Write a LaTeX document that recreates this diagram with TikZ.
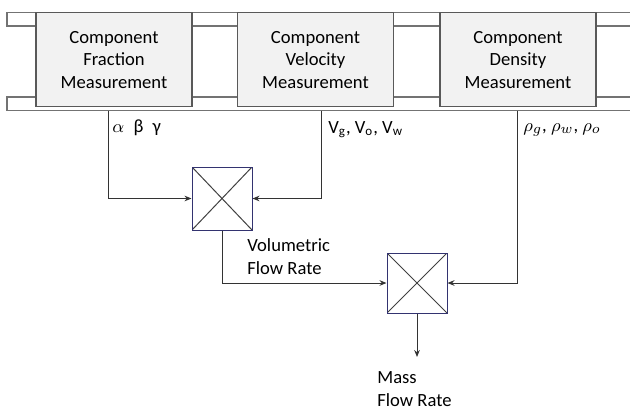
\documentclass[tikz,border=0pt]{standalone}
\usepackage{fontspec}
\setmainfont{Carlito}
\usetikzlibrary{arrows.meta}

\tikzset{
  meas/.style={draw=black!65, fill=black!5, line width=0.6pt,
    minimum width=78pt, minimum height=47pt, align=center, inner sep=0pt,
    font=\fontsize{9.3}{11.25}\selectfont},
  mult/.style={draw=blue!30!black!80, line width=0.5pt, minimum width=30pt,
    minimum height=30pt, inner sep=0pt,
    path picture={\draw[black!75, line width=0.5pt]
      (path picture bounding box.north west) -- (path picture bounding box.south east)
      (path picture bounding box.north east) -- (path picture bounding box.south west);}},
  pipe/.style={draw=black!55, line width=0.6pt},
  flow/.style={draw=black!80, line width=0.5pt, -{Stealth[length=3.5pt,width=2.8pt]}},
  lbl/.style={anchor=west, inner sep=0pt, align=left,
    font=\fontsize{9.3}{11.5}\selectfont}
}

\begin{document}
\begin{tikzpicture}[x=0.5pt, y=-0.5pt]
    \useasboundingbox (0,0) rectangle (630,412);

    % Pipe
    \draw[pipe] (630,12.5) -- (7,12.5) -- (7,26) -- (630,26);
    \draw[pipe] (630,97) -- (7,97) -- (7,110.7) -- (630,110.7);

    % Measurements
    \node[meas] (fraction) at (114,59.6) {Component\\Fraction\\Measurement};
    \node[meas] (velocity) at (315.5,59.6) {Component\\Velocity\\Measurement};
    \node[meas] (density) at (518,59.6) {Component\\Density\\Measurement};

    % Taps below the pipe
    \coordinate (tapA) at (108,110.7);
    \coordinate (tapB) at (321,110.7);
    \coordinate (tapC) at (517,110.7);

    % Multipliers
    \node[mult, minimum height=31.5pt] (volmul) at (222,198.5) {};
    \node[mult] (massmul) at (417,283) {};
    \coordinate (massout) at (417,357);

    % Connectors
    \draw[flow] (tapA) |- (volmul.west);
    \draw[flow] (tapB) |- (volmul.east);
    \draw[flow] (volmul.south) |- (massmul.west);
    \draw[flow] (tapC) |- (massmul.east);
    \draw[flow] (massmul.south) -- (massout);

    % Labels
    \node[lbl] (fraclbl) at (112,128) {$\alpha$\enspace β\enspace γ};
    \node[lbl] (vellbl) at (328,130) {V\textsubscript{g}, V\textsubscript{o}, V\textsubscript{w}};
    \node[lbl] (denlbl) at (523,130) {$\rho_g$, $\rho_w$, $\rho_o$};
    \node[lbl] (vollbl) at (247,257) {Volumetric\\Flow Rate};
    \node[lbl] (masslbl) at (377,389) {Mass\\Flow Rate};
\end{tikzpicture}
\end{document}
